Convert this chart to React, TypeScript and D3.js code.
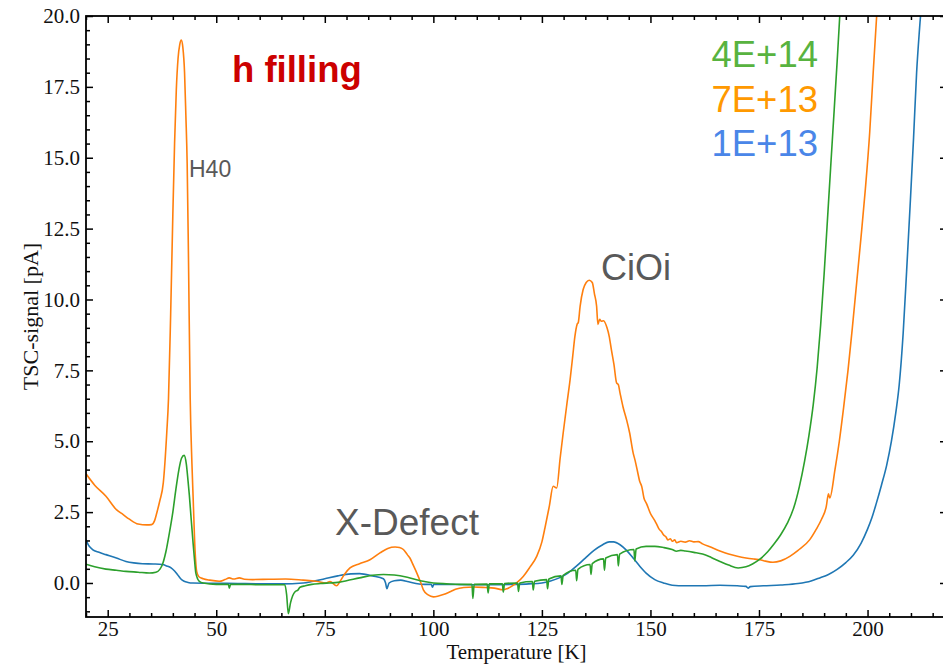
import React, { useEffect, useRef } from "react";
import * as d3 from "d3";

// ---- data (Temperature [K], TSC-signal [pA]) ----
const series1E13: [number, number][] = [
  [20, 1.53], [20.5, 1.35], [21.5, 1.18], [23, 1.08], [24.6, 1.0], [27, 0.88], [29.2, 0.76], [31, 0.71], [33, 0.68],
  [35.5, 0.67], [37.6, 0.65], [38.6, 0.6], [39.6, 0.53], [40.4, 0.42], [41.1, 0.29], [41.8, 0.15], [42.6, 0.06],
  [43.5, 0.02], [44.6, 0.0], [50, -0.01], [55, -0.02], [60, -0.03], [65, -0.03], [70, 0.0], [72, 0.05], [75, 0.15],
  [78, 0.25], [81, 0.32], [83, 0.33], [86, 0.25], [88.5, 0.15], [89, 0.0], [89.3, -0.2], [89.8, 0.0], [91, 0.08],
  [92.5, 0.1], [94, 0.05], [96, -0.02], [98, -0.05], [99.5, -0.05], [99.8, -0.15], [100.1, -0.05], [103, -0.05],
  [108, -0.06], [113, -0.06], [118, -0.05], [122, -0.03], [125, 0.0], [127, 0.07], [129, 0.18], [131, 0.35],
  [133, 0.6], [135, 0.88], [137, 1.15], [139, 1.35], [140.5, 1.45], [141.5, 1.45], [143, 1.35], [144.5, 1.15],
  [146, 0.88], [147.5, 0.6], [149, 0.35], [151, 0.12], [153, 0.0], [155, -0.08], [158, -0.1], [162, -0.1],
  [166, -0.08], [170, -0.1], [172, -0.12], [172.5, -0.18], [173, -0.13], [176, -0.1], [180, -0.07], [184, -0.02],
  [187, 0.07], [189, 0.18], [191, 0.3], [193, 0.48], [195, 0.72], [196.7, 0.98], [198.5, 1.4], [200, 1.9],
  [201, 2.3], [202, 2.8], [203.2, 3.45], [204.4, 4.15], [205.5, 5.0], [206.5, 6.0], [207.3, 7.0], [208.2, 8.8],
  [209, 11.0], [209.8, 13.3], [210.6, 15.7], [211.3, 18.0], [212, 19.6], [212.5, 20.6], [213, 22],
];

const series7E13: [number, number][] = [
  [20, 3.85], [22, 3.45], [24.6, 3.06], [27, 2.59], [28.5, 2.42], [30, 2.25], [32, 2.08], [34, 2.05], [35.1, 2.06],
  [35.8, 2.2], [36.3, 2.47], [37, 2.9], [37.8, 3.53], [38.6, 5.3], [39.0, 6.5], [39.5, 9.5], [40.0, 13.0],
  [40.4, 15.5], [40.8, 17.4], [41.2, 18.5], [41.6, 19.0], [41.95, 19.15], [42.3, 18.9], [42.7, 18.0],
  [43.0, 16.5], [43.3, 14.8], [43.6, 11.5], [44.0, 6.5], [44.4, 4.2], [44.7, 2.9], [45.1, 1.2], [45.5, 0.4],
  [46, 0.22], [47, 0.15], [48.5, 0.1], [50.7, 0.06], [52, 0.12], [53, 0.18], [54, 0.14], [55.3, 0.18],
  [56.5, 0.13], [58.4, 0.12], [62, 0.13], [66, 0.14], [70, 0.1], [73, 0.06], [75.3, 0.0], [76.2, 0.05],
  [77.7, -0.1], [78.5, 0.05], [79.5, 0.3], [80.8, 0.53], [83, 0.68], [85.4, 0.82], [87.7, 1.06], [89.5, 1.22],
  [91.2, 1.27], [92.2, 1.25], [93.1, 1.18], [94, 1.0], [94.6, 0.88], [95.4, 0.62], [96.2, 0.35], [97, 0.05],
  [97.7, -0.24], [98.8, -0.42], [100, -0.49], [101, -0.47], [102.3, -0.41], [104, -0.3], [105.3, -0.21],
  [107, -0.16], [109.2, -0.14], [112, -0.16], [114, -0.18], [116.1, -0.24], [117, -0.2], [118, -0.12],
  [119.3, 0.02], [120.7, 0.23], [122.2, 0.55], [123.8, 0.94], [125, 1.45], [125.7, 1.94], [126.7, 2.7],
  [127.6, 3.41], [128.4, 3.35], [129.2, 4.4], [129.9, 5.29], [130.7, 6.25], [131.5, 7.18], [132.1, 8.0],
  [132.6, 8.7], [133.1, 9.12], [133.4, 9.2], [133.8, 9.76], [134.5, 10.35], [135.2, 10.6], [135.9, 10.68],
  [136.6, 10.6], [137.1, 10.2], [137.6, 9.76], [137.9, 9.12], [138.3, 9.3], [138.7, 9.23], [139.2, 9.25],
  [140.0, 9.0], [140.5, 8.7], [141.0, 8.23], [141.6, 7.7], [142.2, 7.06], [142.6, 7.0], [143.0, 6.7],
  [143.7, 6.2], [144.5, 5.76], [145.2, 5.3], [146.0, 4.6], [146.5, 4.3], [147.0, 3.95], [147.5, 3.6],
  [148.0, 3.4], [148.5, 3.0], [149.1, 2.8], [150, 2.45], [151, 2.2], [151.5, 2.05], [152, 1.9], [152.6, 1.8],
  [153, 1.7], [153.6, 1.62], [154, 1.52], [154.6, 1.56], [155, 1.47], [155.6, 1.52], [156, 1.42], [157, 1.47],
  [158, 1.44], [159, 1.49], [160, 1.45], [161, 1.46], [162, 1.38], [164, 1.26], [166, 1.13], [168, 1.02],
  [170, 0.94], [172, 0.88], [174, 0.84], [175.2, 0.82], [176.5, 0.77], [178.2, 0.73], [180, 0.78],
  [182.1, 0.94], [184, 1.15], [186.7, 1.53], [188.2, 1.9], [189.4, 2.25], [190.5, 2.7], [191, 3.15],
  [191.3, 3.0], [192.5, 4.0], [193.5, 5.0], [194.5, 6.2], [195.5, 7.5], [196.5, 9.0], [197.5, 10.6],
  [198.5, 12.2], [199.5, 13.9], [200.5, 15.9], [201.3, 18.0], [202.1, 20], [203, 22.2],
];

const series4E14: [number, number][] = [
  [20, 0.66], [22, 0.57], [24.6, 0.49], [27, 0.45], [29.2, 0.41], [32, 0.38], [34.6, 0.35], [36.1, 0.38],
  [37, 0.48], [37.6, 0.65], [38.4, 1.1], [39.2, 1.76], [40, 2.5], [40.7, 3.3], [41.4, 4.0], [42, 4.4],
  [42.6, 4.5], [43.1, 4.2], [43.5, 3.6], [43.8, 3.1], [44.2, 2.3], [44.6, 1.53], [45, 0.8], [45.3, 0.35],
  [46.1, 0.06], [47, 0.0], [50, -0.05], [52.8, -0.05], [53, -0.18], [53.3, -0.05], [56, -0.05], [60, -0.06],
  [64, -0.06], [65.8, -0.06], [66.2, -0.4], [66.6, -1.08], [67.1, -0.7], [67.6, -0.45], [68.2, -0.3],
  [68.8, -0.25], [69.3, -0.15], [70.5, -0.1], [72, -0.05], [74, -0.02], [76, 0.0], [78, 0.02], [80, 0.08],
  [83, 0.18], [86, 0.27], [88.5, 0.3], [91, 0.28], [94, 0.2], [97, 0.08], [100, 0.0], [103, -0.03], [106, -0.05],
  [108.9, -0.05], [109.1, -0.55], [109.4, -0.05], [112.4, -0.04], [112.6, -0.35], [112.9, -0.03],
  [115.9, -0.03], [116.1, -0.32], [116.4, -0.02], [119.4, 0.0], [119.6, -0.3], [119.9, 0.0], [122.8, 0.05],
  [123, -0.25], [123.3, 0.06], [126.1, 0.12], [126.3, -0.2], [126.6, 0.14], [129.4, 0.25], [129.6, -0.05],
  [129.9, 0.27], [132.8, 0.45], [133, 0.08], [133.3, 0.48], [136.1, 0.65], [136.3, 0.3], [136.6, 0.68],
  [139.2, 0.85], [139.4, 0.45], [139.7, 0.88], [142.4, 1.0], [142.6, 0.6], [142.9, 1.02], [146.2, 1.18],
  [146.4, 0.78], [146.7, 1.2], [149, 1.29], [151, 1.29], [153, 1.25], [155, 1.18], [156, 1.12], [157, 1.15],
  [158, 1.13], [160, 1.08], [162, 1.02], [164, 0.9], [166, 0.76], [168, 0.63], [170.2, 0.53], [172, 0.57],
  [173.5, 0.67], [175.2, 0.84], [177, 1.1], [178.5, 1.38], [180, 1.7], [181.5, 2.1], [183, 2.65],
  [184.3, 3.4], [185.5, 4.3], [186.5, 5.2], [187.5, 6.3], [188.4, 7.6], [189.2, 9.1], [190, 10.9], [191, 13.4],
  [192, 15.9], [193, 18.4], [193.6, 20], [194.2, 21.8],
];

const xMajorTicks = [25, 50, 75, 100, 125, 150, 175, 200];
const yMajorTicks = [0, 2.5, 5, 7.5, 10, 12.5, 15, 17.5, 20];
const legendLabels = ["4E+14", "7E+13", "1E+13"];
const legendColors = ["#58b33f", "#ff9900", "#4a86e8"];

const W = 943;
const H = 665;
const left = 86;
const right = 947;
const top = 16;
const bottom = 617;

export default function App() {
  const gRef = useRef<SVGGElement>(null);

  const x = d3.scaleLinear().domain([20, 218.3]).range([left, right]);
  const y = d3.scaleLinear().domain([-1.2, 20]).range([bottom, top]);

  const line = d3
    .line<[number, number]>()
    .x((d) => x(d[0]))
    .y((d) => y(d[1]))
    .curve(d3.curveMonotoneX);

  useEffect(() => {
    if (!gRef.current) return;
    const g = d3.select(gRef.current);
    g.selectAll("*").remove();

    const xMinor = d3.range(20, 219, 5).filter((v) => !xMajorTicks.includes(v));
    const yMinor = d3.range(-1, 20.01, 0.5).filter((v) => !yMajorTicks.some((t) => Math.abs(t - v) < 1e-6));

    const style = (sel: any) => {
      sel.select(".domain").remove();
      sel.selectAll("line").attr("stroke", "#000").attr("stroke-width", 1.5);
      sel
        .selectAll("text")
        .attr("font-family", "'Liberation Serif', 'Times New Roman', serif")
        .attr("font-size", 21)
        .attr("fill", "#111");
    };

    // bottom
    g.append("g")
      .attr("transform", `translate(0,${bottom})`)
      .call(d3.axisBottom(x).tickValues(xMajorTicks).tickSizeInner(-7).tickSizeOuter(0).tickPadding(4).tickFormat(d3.format("d")))
      .call(style);
    g.append("g")
      .attr("transform", `translate(0,${bottom})`)
      .call(d3.axisBottom(x).tickValues(xMinor).tickSizeInner(-4).tickSizeOuter(0).tickFormat(() => ""))
      .call(style);
    // top
    g.append("g")
      .attr("transform", `translate(0,${top})`)
      .call(d3.axisTop(x).tickValues(xMajorTicks).tickSizeInner(-7).tickSizeOuter(0).tickFormat(() => ""))
      .call(style);
    g.append("g")
      .attr("transform", `translate(0,${top})`)
      .call(d3.axisTop(x).tickValues(xMinor).tickSizeInner(-4).tickSizeOuter(0).tickFormat(() => ""))
      .call(style);
    // left
    g.append("g")
      .attr("transform", `translate(${left},0)`)
      .call(d3.axisLeft(y).tickValues(yMajorTicks).tickSizeInner(-7).tickSizeOuter(0).tickPadding(6).tickFormat(d3.format(".1f")))
      .call(style);
    g.append("g")
      .attr("transform", `translate(${left},0)`)
      .call(d3.axisLeft(y).tickValues(yMinor).tickSizeInner(-4).tickSizeOuter(0).tickFormat(() => ""))
      .call(style);
    // right
    g.append("g")
      .attr("transform", `translate(${right},0)`)
      .call(d3.axisRight(y).tickValues(yMajorTicks).tickSizeInner(-7).tickSizeOuter(0).tickFormat(() => ""))
      .call(style);
    g.append("g")
      .attr("transform", `translate(${right},0)`)
      .call(d3.axisRight(y).tickValues(yMinor).tickSizeInner(-4).tickSizeOuter(0).tickFormat(() => ""))
      .call(style);
  }, []);

  const sans = "'Liberation Sans', Arial, Helvetica, sans-serif";
  const serif = "'Liberation Serif', 'Times New Roman', serif";

  return (
    <svg
      width={W}
      height={H}
      style={{ position: "absolute", left: 0, top: 0, background: "#fff" }}
    >
      <defs>
        <clipPath id="plotClip">
          <rect x={left} y={top} width={right - left} height={bottom - top} />
        </clipPath>
      </defs>
      <rect x={0} y={0} width={W} height={H} fill="#fff" />
      <g clipPath="url(#plotClip)" fill="none" strokeWidth={1.6} strokeLinejoin="round">
        <path d={line(series1E13) || ""} stroke="#1f77b4" />
        <path d={line(series7E13) || ""} stroke="#ff7f0e" />
        <path d={line(series4E14) || ""} stroke="#2ca02c" />
      </g>
      <g ref={gRef} />
      <rect
        x={left}
        y={top}
        width={right - left}
        height={bottom - top}
        fill="none"
        stroke="#000"
        strokeWidth={1.8}
      />
      <text
        x={(left + right) / 2}
        y={659}
        textAnchor="middle"
        fontFamily={serif}
        fontSize={21}
        fill="#111"
      >
        Temperature [K]
      </text>
      <text
        transform={`translate(38,${(top + bottom) / 2}) rotate(-90)`}
        textAnchor="middle"
        fontFamily={serif}
        fontSize={22}
        fill="#111"
      >
        TSC-signal [pA]
      </text>
      <text x={232} y={82} fontFamily={sans} fontWeight="bold" fontSize={36.5} fill="#cc0000">
        h filling
      </text>
      <text x={189} y={177} fontFamily={sans} fontSize={23} fill="#595959">
        H40
      </text>
      <text x={601} y={280} fontFamily={sans} fontSize={36} fill="#595959">
        CiOi
      </text>
      <text x={335} y={535} fontFamily={sans} fontSize={37} fill="#595959">
        X-Defect
      </text>
      {legendLabels.map((lab, i) => (
        <text
          key={lab}
          x={818}
          y={67 + i * 44.5}
          textAnchor="end"
          fontFamily={sans}
          fontSize={36.5}
          fill={legendColors[i]}
        >
          {lab}
        </text>
      ))}
    </svg>
  );
}
